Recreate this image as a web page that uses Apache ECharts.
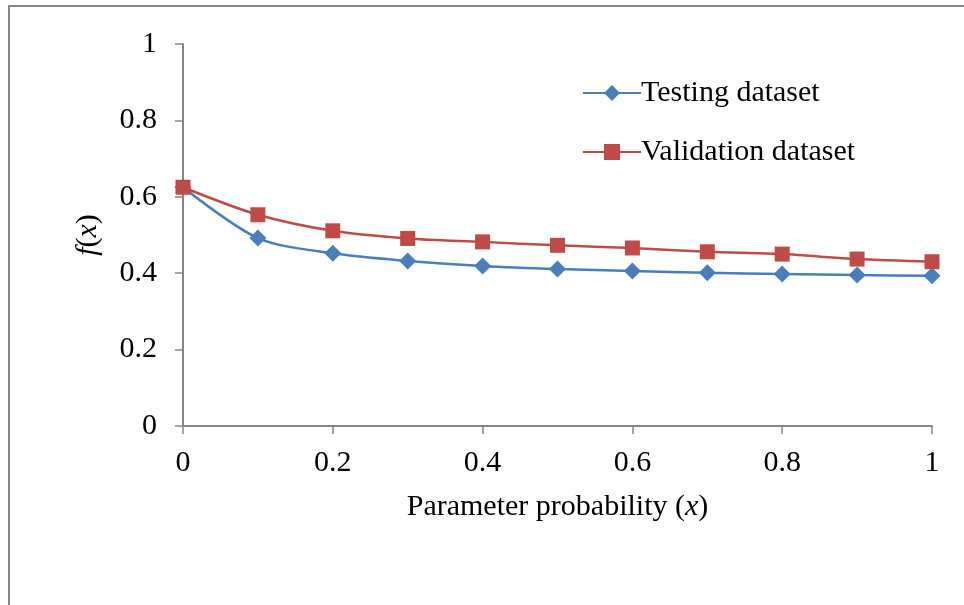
<!DOCTYPE html>
<html>
<head>
<meta charset="utf-8">
<script src="https://cdn.jsdelivr.net/npm/echarts@6/dist/echarts.min.js"></script>
<style>
  html, body { margin: 0; padding: 0; background: #fff; }
  #chart { width: 964px; height: 605px; }
</style>
</head>
<body>
<div id="chart"></div>
<script>
// 数据
const xValues = [0, 0.1, 0.2, 0.3, 0.4, 0.5, 0.6, 0.7, 0.8, 0.9, 1];
const testing = [0.625, 0.492, 0.452, 0.432, 0.419, 0.411, 0.406, 0.401, 0.398, 0.395, 0.393];
const validation = [0.625, 0.553, 0.511, 0.491, 0.482, 0.473, 0.466, 0.456, 0.450, 0.437, 0.430];

const font = 'Liberation Serif';
const axisGray = '#868686';
const fs = 30;

const chart = echarts.init(document.getElementById('chart'));

const option = {
  animation: false,
  textStyle: { fontFamily: font },
  graphic: [{
    type: 'rect',
    shape: { x: 9, y: 6, width: 980, height: 620 },
    style: { fill: 'none', stroke: axisGray, lineWidth: 2 },
    silent: true
  }],
  grid: { left: 183, right: 32, top: 44, bottom: 179 },
  legend: {
    orient: 'vertical',
    left: 577,
    top: 73,
    itemWidth: 58,
    itemHeight: 20,
    itemGap: 29,
    textStyle: { fontFamily: font, fontSize: fs, color: '#000', padding: [0, 0, 0, -5] },
    data: ['Testing dataset', 'Validation dataset']
  },
  xAxis: {
    type: 'value',
    min: 0, max: 1, interval: 0.2,
    name: '{n|Parameter probability (}{i|x}{n|)}',
    nameLocation: 'middle',
    nameGap: 66,
    nameTextStyle: {
      rich: {
        n: { fontFamily: font, fontSize: fs, color: '#000' },
        i: { fontFamily: font, fontSize: fs, color: '#000', fontStyle: 'italic' }
      }
    },
    axisLine: { lineStyle: { color: axisGray, width: 2 } },
    axisTick: { show: true, length: 8, inside: false, lineStyle: { color: axisGray, width: 1.5 } },
    axisLabel: { fontFamily: font, fontSize: fs, color: '#000', margin: 22 },
    splitLine: { show: false }
  },
  yAxis: {
    type: 'value',
    min: 0, max: 1, interval: 0.2,
    name: '{i|f}{n|(}{i|x}{n|)}',
    nameLocation: 'middle',
    nameRotate: 90,
    nameGap: 80,
    nameTextStyle: {
      rich: {
        n: { fontFamily: font, fontSize: fs, color: '#000' },
        i: { fontFamily: font, fontSize: fs, color: '#000', fontStyle: 'italic' }
      }
    },
    axisLine: { show: true, lineStyle: { color: axisGray, width: 2 } },
    axisTick: { show: true, length: 8, lineStyle: { color: axisGray, width: 1.5 } },
    axisLabel: { fontFamily: font, fontSize: fs, color: '#000', margin: 26 },
    splitLine: { show: false }
  },
  series: [
    {
      name: 'Testing dataset',
      type: 'line',
      smooth: 0.3,
      data: xValues.map((x, i) => [x, testing[i]]),
      symbol: 'diamond',
      symbolSize: 17,
      lineStyle: { color: '#4a7ebb', width: 2.5 },
      itemStyle: { color: '#4a7ebb' }
    },
    {
      name: 'Validation dataset',
      type: 'line',
      smooth: 0.3,
      data: xValues.map((x, i) => [x, validation[i]]),
      symbol: 'rect',
      symbolSize: 15,
      lineStyle: { color: '#be4b48', width: 2.5 },
      itemStyle: { color: '#be4b48' }
    }
  ]
};

chart.setOption(option);
window.addEventListener('resize', () => chart.resize());
</script>
</body>
</html>
